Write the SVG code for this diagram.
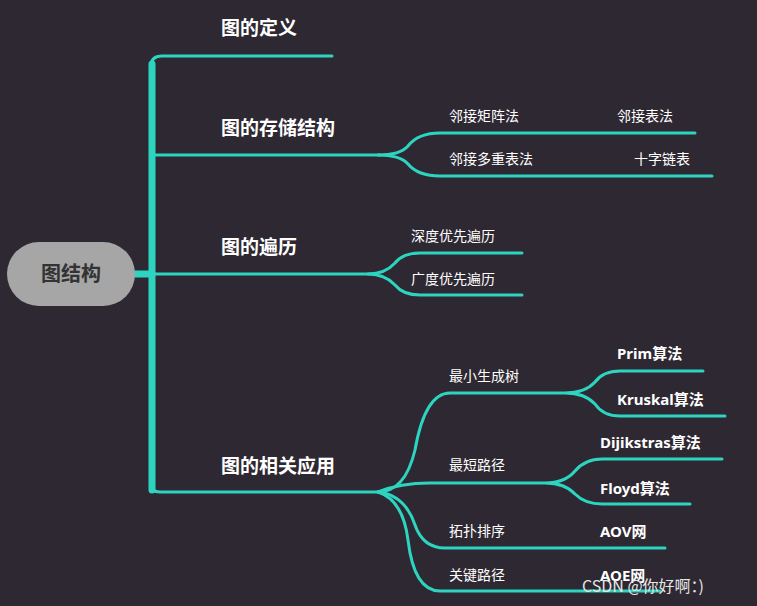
<svg xmlns="http://www.w3.org/2000/svg" width="757" height="606" viewBox="0 0 757 606">
<style>
.c{fill:none;stroke:#2dd4bf;stroke-width:3;stroke-linecap:round}
.t{stroke-width:7}
.h{font-family:"Noto Sans CJK SC","Noto Sans",sans-serif;font-weight:bold;font-size:19px;fill:#fff}
.s{font-family:"Noto Sans CJK SC","Noto Sans",sans-serif;font-size:14px;fill:#fff}
.b{font-family:"Noto Sans","Noto Sans CJK SC",sans-serif;font-weight:bold;font-size:15px;fill:#fff}
</style>
<rect width="757" height="606" fill="#2e2832"/>
<g id="connectors">
<path class="c t" d="M152 490V64"/>
<path class="c" d="M151 66Q151 56 162 56H332"/>
<path class="c t" d="M132 274H152"/>
<path class="c" d="M152 155H380M152 274H370M151 484Q151 492 160 492H378"/>
<path class="c" d="M378 155Q400 155 408 146Q418 133 440 133H695M378 155Q400 155 408 164Q418 176 440 176H712"/>
<path class="c" d="M368 274Q385 274 395 263Q403 253 420 253H522M368 274Q385 274 395 285Q403 295 420 295H522"/>
<path class="c" d="M378 492Q405 492 415 450Q425 393 450 393H565Q585 393 595 382Q603 371 620 371H703M565 393Q585 393 595 404Q603 416 620 416H725"/>
<path class="c" d="M378 492Q400 483 430 483H545Q565 483 575 471Q585 459 602 459H722M545 483Q565 483 575 494Q585 504 602 504H690"/>
<path class="c" d="M378 492Q405 495 415 525Q423 548 445 548H665"/>
<path class="c" d="M378 492Q403 500 408 540Q414 591 440 591H660"/>
</g>
<g id="root"><rect x="7" y="242" width="128" height="64" rx="32" fill="#a6a6a6"/><text x="71" y="281" text-anchor="middle" font-family="Noto Sans CJK SC,sans-serif" font-weight="bold" font-size="20" fill="#333">图结构</text></g>
<g id="n1"><text class="h" x="221" y="35">图的定义</text></g>
<g id="n2"><text class="h" x="221" y="135">图的存储结构</text></g>
<g id="n3"><text class="h" x="221" y="254">图的遍历</text></g>
<g id="n4"><text class="h" x="221" y="473">图的相关应用</text></g>
<g id="n5"><text class="s" x="449" y="121">邻接矩阵法</text></g>
<g id="n6"><text class="s" x="617" y="121">邻接表法</text></g>
<g id="n7"><text class="s" x="449" y="164">邻接多重表法</text></g>
<g id="n8"><text class="s" x="634" y="164">十字链表</text></g>
<g id="n9"><text class="s" x="411" y="241">深度优先遍历</text></g>
<g id="n10"><text class="s" x="411" y="284">广度优先遍历</text></g>
<g id="n11"><text class="s" x="449" y="381">最小生成树</text></g>
<g id="n12"><text class="b" x="617" y="359">Prim算法</text></g>
<g id="n13"><text class="b" x="617" y="405">Kruskal算法</text></g>
<g id="n14"><text class="s" x="449" y="470">最短路径</text></g>
<g id="n15"><text class="b" x="600" y="448">Dijikstras算法</text></g>
<g id="n16"><text class="b" x="600" y="494">Floyd算法</text></g>
<g id="n17"><text class="s" x="449" y="536">拓扑排序</text></g>
<g id="n18"><text class="b" x="600" y="537">AOV网</text></g>
<g id="n19"><text class="s" x="449" y="580">关键路径</text></g>
<g id="n20"><text class="b" x="600" y="581">AOE网</text></g>
<text x="582" y="592" font-family="Noto Sans CJK SC,sans-serif" font-size="16" fill="#e6e6e6">CSDN @你好啊：)</text>
</svg>
